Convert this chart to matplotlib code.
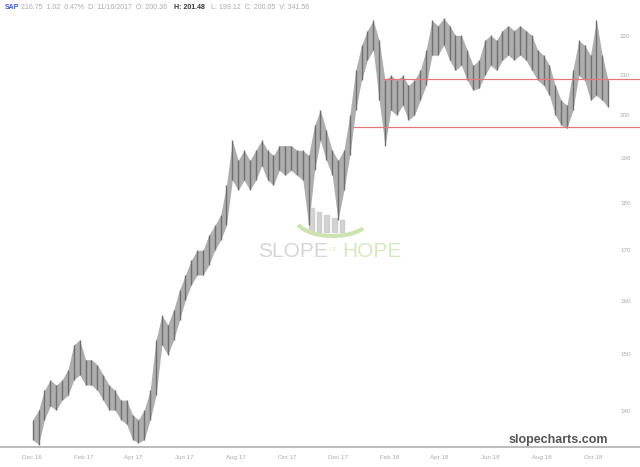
import matplotlib
matplotlib.use('Agg')
import matplotlib.pyplot as plt
import matplotlib.patches as mpatches
import pandas as pd

# --- data (weekly high / low) ---
week_high = [138.7, 140.3, 143.7, 145.5, 144.6, 145.5, 147.3, 151.8, 152.7, 149.1,
             149.1, 148.2, 146.4, 144.6, 143.7, 142.0, 142.0, 139.5, 138.7, 140.3,
             143.7, 152.7, 157.3, 155.5, 158.3, 162.2, 165.1, 168.1, 170.1, 170.1,
             173.2, 175.3, 177.4, 184.0, 194.2, 189.6, 191.9, 189.6, 191.9, 194.2,
             191.9, 190.7, 193.0, 193.0, 193.0, 191.9, 191.9, 190.7, 197.8, 201.4,
             196.6, 191.9, 189.6, 191.9, 200.2, 211.3, 217.8, 221.7, 224.4, 219.1,
             208.8, 210.0, 208.8, 210.0, 207.5, 208.8, 211.3, 216.5, 224.4, 223.0,
             225.0, 223.0, 220.4, 220.4, 216.5, 212.6, 213.9, 219.1, 220.4, 219.1,
             221.7, 223.0, 221.7, 223.0, 221.7, 220.4, 216.5, 215.2, 212.6, 207.5,
             203.8, 202.6, 211.3, 219.1, 217.8, 215.2, 224.4, 215.2, 208.8]
week_low = [135.4, 134.6, 138.7, 141.0, 140.3, 142.0, 142.8, 145.5, 146.4, 144.6,
            144.6, 143.7, 142.0, 140.3, 140.3, 138.7, 137.9, 135.4, 134.9, 135.4,
            138.7, 142.8, 151.8, 150.0, 152.7, 156.4, 160.2, 163.2, 165.1, 165.1,
            167.1, 170.1, 172.2, 175.3, 185.1, 182.9, 185.1, 182.9, 185.1, 188.4,
            185.1, 184.0, 187.3, 186.2, 187.3, 186.2, 185.1, 175.3, 187.3, 194.2,
            189.6, 186.2, 176.4, 182.9, 190.7, 201.4, 208.8, 213.9, 216.5, 203.8,
            193.0, 201.4, 200.2, 202.6, 199.0, 200.2, 203.8, 207.5, 215.2, 215.2,
            217.8, 213.9, 211.3, 212.6, 208.8, 206.3, 206.8, 210.0, 212.6, 211.3,
            213.9, 215.2, 213.9, 215.2, 213.9, 211.3, 208.8, 207.5, 205.0, 200.2,
            197.8, 197.1, 201.4, 210.0, 208.8, 203.8, 205.0, 203.8, 202.1]
weeks = pd.date_range('2016-12-02', periods=len(week_high), freq='7D')

level_prices = [209.0, 197.3]
level_starts = ['2018-01-24', '2017-12-19']

y_ticks = [140, 150, 160, 170, 180, 190, 200, 210, 220]
x_tick_dates = ['2016-12-01', '2017-02-01', '2017-04-01', '2017-06-01', '2017-08-01',
                '2017-10-01', '2017-12-01', '2018-02-01', '2018-04-01', '2018-06-01',
                '2018-08-01', '2018-10-01']
x_tick_labels = ['Dec 16', 'Feb 17', 'Apr 17', 'Jun 17', 'Aug 17', 'Oct 17',
                 'Dec 17', 'Feb 18', 'Apr 18', 'Jun 18', 'Aug 18', 'Oct 18']

BAR = '#6f6f6f'
MUTED = '#aaaaaa'
RED = '#e07a7a'

plt.rcParams['font.family'] = ['Liberation Sans', 'DejaVu Sans']

fig = plt.figure(figsize=(6.4, 4.67), dpi=100, facecolor='white')
ax = fig.add_axes([0, 1 - 447 / 467, 1, 435 / 467])
ax.set_yscale('log')
ax.set_ylim(134.2, 226.7)
ax.set_xlim(pd.Timestamp('2016-10-24'), pd.Timestamp('2018-11-26'))

# price band + bars
ax.fill_between(weeks, week_low, week_high, color='#a0a0a0', linewidth=0, alpha=0.85)
ax.vlines(weeks, week_low, week_high, color=BAR, linewidth=1.0)

# horizontal levels
for p, s in zip(level_prices, level_starts):
    ax.hlines(p, pd.Timestamp(s), pd.Timestamp('2018-11-26'), color=RED, linewidth=0.9)

# axes styling
for side in ['top', 'left', 'right']:
    ax.spines[side].set_visible(False)
ax.spines['bottom'].set_color('#b0b0b0')
ax.spines['bottom'].set_linewidth(1.2)
ax.set_yticks([])
ax.minorticks_off()
ax.set_xticks(pd.to_datetime(x_tick_dates))
ax.set_xticklabels(x_tick_labels, color=MUTED, fontsize=4.5)
ax.tick_params(axis='x', length=0, pad=6)

# y labels drawn inside on the right
for v in y_ticks:
    ax.text(0.977, v, str(v), transform=ax.get_yaxis_transform(), color=MUTED,
            fontsize=4.5, ha='center', va='center')

# header line
fig.text(0.008, 0.985, 'SAP', color='#3b5fc0', fontsize=5, fontweight='bold', va='center')
fig.text(0.033, 0.985, '216.75  1.02  0.47%  D: 11/16/2017  O: 200.36', color=MUTED,
         fontsize=5, va='center')
fig.text(0.272, 0.985, 'H: 201.48', color='#333333', fontsize=5, fontweight='bold', va='center')
fig.text(0.330, 0.985, 'L: 199.12  C: 200.05  V: 341.56', color=MUTED, fontsize=5, va='center')

# watermark
for i, h in enumerate([0.055, 0.045, 0.038, 0.032, 0.026]):
    ax.add_patch(mpatches.Rectangle((0.483 + i * 0.012, 0.495), 0.007, h,
                                    transform=ax.transAxes, color='#c8c8c8', alpha=0.8))
ax.add_patch(mpatches.Arc((0.52, 0.53), 0.12, 0.09, theta1=200, theta2=330,
                          transform=ax.transAxes, color='#cfe3b0', linewidth=3))
ax.text(0.403, 0.45, 'SLOPE', transform=ax.transAxes, color='#d5d5d5', fontsize=15,
        va='center', ha='left')
ax.text(0.515, 0.455, 'OF', transform=ax.transAxes, color='#d7e8c0', fontsize=4,
        va='center', ha='left')
ax.text(0.535, 0.45, 'HOPE', transform=ax.transAxes, color='#d7e8c0', fontsize=15,
        va='center', ha='left')

fig.text(0.95, 0.057, 'slopecharts.com', color='#555555', fontsize=9, fontweight='bold',
         ha='right', va='center')

fig.savefig('out.png', dpi=100, facecolor='white')
